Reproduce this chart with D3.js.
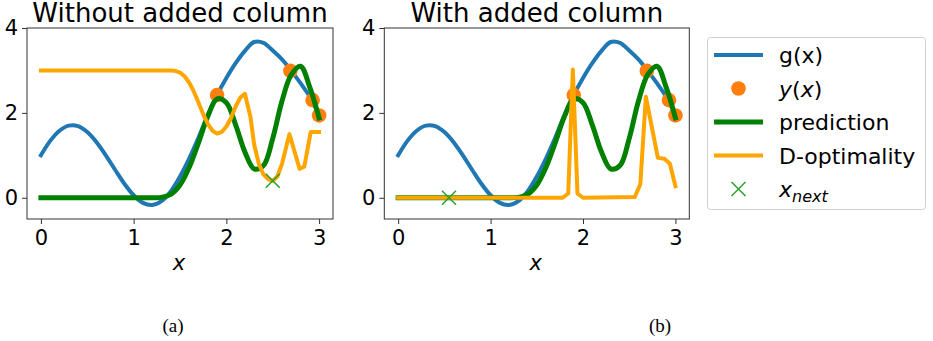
<!DOCTYPE html>
<html>
<head>
<meta charset="utf-8">
<script src="https://cdn.jsdelivr.net/npm/d3@7"></script>
<style>
  html, body { margin: 0; padding: 0; background: #fff; }
  svg { display: block; }
  text { font-family: "DejaVu Sans", sans-serif; fill: #000; }
</style>
</head>
<body>
<svg id="fig" width="933" height="341"></svg>
<script>
// ---- data ----
const panelTitles = ["Without added column", "With added column"];
const panelCaptions = ["(a)", "(b)"];
const xTicks = [0, 1, 2, 3];
const yTicks = [0, 2, 4];

// true function g(x), sampled every 0.1
const gX = [0.0, 0.1, 0.2, 0.3, 0.4, 0.5, 0.6, 0.7, 0.8, 0.9, 1.0,
            1.1, 1.2, 1.3, 1.4, 1.5, 1.6, 1.7, 1.8, 1.9, 2.0,
            2.1, 2.2, 2.3, 2.4, 2.5, 2.6, 2.7, 2.8, 2.9, 3.0];
const gY = [1.00, 1.34, 1.58, 1.70, 1.69, 1.55, 1.31, 1.00, 0.66, 0.33, 0.06,
            -0.12, -0.17, -0.08, 0.15, 0.50, 0.93, 1.42, 1.95, 2.42, 2.82,
            3.17, 3.46, 3.67, 3.65, 3.47, 3.26, 2.99, 2.70, 2.38, 1.95];

// observations y(x)
const obsX = [1.9, 2.69, 2.93, 3.0];
const obsY = [2.42, 2.99, 2.30, 1.94];

// model prediction (same grid as g)
const predLeft  = [0, 0, 0, 0, 0, 0, 0, 0, 0, 0, 0,
                   0, 0, 0.01, 0.08, 0.30, 0.72, 1.30, 1.92, 2.33, 2.24,
                   1.72, 1.08, 0.68, 0.76, 1.40, 2.28, 2.90, 3.10, 2.60, 1.88];
const predRight = [0, 0, 0, 0, 0, 0, 0, 0, 0, 0, 0,
                   0, 0, 0.01, 0.08, 0.30, 0.72, 1.30, 1.92, 2.33, 2.24,
                   1.72, 1.08, 0.68, 0.76, 1.40, 2.28, 2.90, 3.10, 2.60, 1.88];

// D-optimality criterion
const dOptLeftX = [0.0, 0.5, 1.0, 1.4, 1.45, 1.5, 1.55, 1.6, 1.65, 1.7, 1.75, 1.8, 1.85,
                   1.9, 1.95, 2.0, 2.05, 2.1, 2.15, 2.2, 2.26, 2.3, 2.35, 2.4, 2.45,
                   2.5, 2.55, 2.6, 2.68, 2.79, 2.84, 2.91, 3.0];
const dOptLeftY = [3.0, 3.0, 3.0, 3.0, 2.99, 2.95, 2.86, 2.71, 2.50, 2.24, 1.97, 1.74, 1.58,
                   1.51, 1.55, 1.68, 1.88, 2.15, 2.36, 2.45, 1.90, 1.25, 0.80, 0.55, 0.44,
                   0.40, 0.50, 0.80, 1.50, 0.68, 0.73, 1.55, 1.55];
const dOptRightX = [0.0, 1.0, 1.78, 1.84, 1.89, 1.94, 2.0, 2.56, 2.62, 2.68, 2.81, 2.88, 2.94, 3.0];
const dOptRightY = [0.0, 0.0, 0.0, 0.10, 3.02, 0.10, 0.0, 0.02, 0.32, 2.38, 0.94, 0.92, 0.80, 0.27];

// next sample location
const nextX = [2.5, 0.55];
const nextY = [0.40, 0.0];

// ---- styling ----
const C = {
  g: "#1f77b4", obs: "#ff7f0e", pred: "#008000", dopt: "#ffa500", next: "#2ca02c"
};

const svg = d3.select("#fig");

const panels = [
  { left: 27,    right: 333,   pred: predLeft,  dx: dOptLeftX,  dy: dOptLeftY,  nx: nextX[0], ny: nextY[0] },
  { left: 384.3, right: 689.3, pred: predRight, dx: dOptRightX, dy: dOptRightY, nx: nextX[1], ny: nextY[1] }
];
const plotTop = 28, plotBottom = 219;

panels.forEach((p, i) => {
  const x = d3.scaleLinear().domain([-0.15, 3.15]).range([p.left, p.right]);
  const y = d3.scaleLinear().domain([-0.5, 4.0]).range([plotBottom, plotTop]);
  const g = svg.append("g");

  const clipId = "clip" + i;
  g.append("clipPath").attr("id", clipId).append("rect")
    .attr("x", p.left).attr("y", plotTop).attr("width", p.right - p.left).attr("height", plotBottom - plotTop);
  const plot = g.append("g").attr("clip-path", `url(#${clipId})`);

  const smooth = d3.line().x(d => x(d[0])).y(d => y(d[1])).curve(d3.curveCatmullRom.alpha(0.5));
  const straight = d3.line().x(d => x(d[0])).y(d => y(d[1]));

  plot.append("path").datum(d3.zip(gX, gY)).attr("d", smooth)
    .attr("fill", "none").attr("stroke", C.g).attr("stroke-width", 4)
    .attr("stroke-linecap", "square").attr("stroke-linejoin", "round");

  plot.selectAll("circle.obs").data(d3.zip(obsX, obsY)).join("circle")
    .attr("class", "obs").attr("cx", d => x(d[0])).attr("cy", d => y(d[1]))
    .attr("r", 7.3).attr("fill", C.obs);

  plot.append("path").datum(d3.zip(gX, p.pred)).attr("d", smooth)
    .attr("fill", "none").attr("stroke", C.pred).attr("stroke-width", 5)
    .attr("stroke-linecap", "square").attr("stroke-linejoin", "round");

  plot.append("path").datum(d3.zip(p.dx, p.dy)).attr("d", straight)
    .attr("fill", "none").attr("stroke", C.dopt).attr("stroke-width", 4)
    .attr("stroke-linecap", "square").attr("stroke-linejoin", "round");

  const mx = x(p.nx), my = y(p.ny), s = 7;
  plot.append("path")
    .attr("d", `M${mx - s},${my - s}L${mx + s},${my + s}M${mx - s},${my + s}L${mx + s},${my - s}`)
    .attr("stroke", C.next).attr("stroke-width", 1.5).attr("fill", "none");

  // frame
  g.append("rect").attr("x", p.left).attr("y", plotTop)
    .attr("width", p.right - p.left).attr("height", plotBottom - plotTop)
    .attr("fill", "none").attr("stroke", "#333").attr("stroke-width", 1);

  // axes
  const ax = g.append("g").attr("transform", `translate(0,${plotBottom})`)
    .call(d3.axisBottom(x).tickValues(xTicks).tickFormat(d3.format("d")).tickSize(5).tickPadding(6));
  const ay = g.append("g").attr("transform", `translate(${p.left},0)`)
    .call(d3.axisLeft(y).tickValues(yTicks).tickFormat(d3.format("d")).tickSize(5).tickPadding(4));
  [ax, ay].forEach(a => {
    a.select(".domain").remove();
    a.selectAll(".tick line").attr("stroke", "#333");
    a.selectAll(".tick text").style("font-size", "21px").style("font-family", "DejaVu Sans").attr("fill", "#000");
  });

  // title and x label
  g.append("text").attr("x", (p.left + p.right) / 2).attr("y", 22)
    .attr("text-anchor", "middle").style("font-size", "26px").text(panelTitles[i]);
  g.append("text").attr("x", x(1.5) - 1).attr("y", 270)
    .attr("text-anchor", "middle").style("font-size", "21px").style("font-style", "italic").text("x");

  // caption
  svg.append("text").attr("x", i === 0 ? 173 : 660).attr("y", 332)
    .attr("text-anchor", "middle")
    .style("font-family", "Liberation Serif, serif").style("font-size", "19px")
    .text(panelCaptions[i]);
});

// ---- legend ----
const leg = svg.append("g");
leg.append("rect").attr("x", 707.5).attr("y", 37.5).attr("width", 218).attr("height", 172)
  .attr("rx", 3).attr("fill", "#fff").attr("fill-opacity", 0.8)
  .attr("stroke", "#d0d0d0").attr("stroke-width", 1);

const rows = [55, 88.5, 122, 155.5, 189];
const hx0 = 714, hx1 = 763, hc = (hx0 + hx1) / 2, tx = 779;

function legLine(yy, color, w) {
  leg.append("line").attr("x1", hx0).attr("x2", hx1).attr("y1", yy).attr("y2", yy)
    .attr("stroke", color).attr("stroke-width", w).attr("stroke-linecap", "butt");
}
function legText(yy) {
  return leg.append("text").attr("x", tx).attr("y", yy + 8).style("font-size", "22px");
}

legLine(rows[0], C.g, 4);
legText(rows[0]).text("g(x)");

leg.append("circle").attr("cx", hc).attr("cy", rows[1]).attr("r", 7.3).attr("fill", C.obs);
const t1 = legText(rows[1]);
t1.append("tspan").style("font-style", "italic").text("y");
t1.append("tspan").text("(");
t1.append("tspan").style("font-style", "italic").text("x");
t1.append("tspan").text(")");

legLine(rows[2], C.pred, 5);
legText(rows[2]).text("prediction");

legLine(rows[3], C.dopt, 4);
legText(rows[3]).text("D-optimality");

const s2 = 7;
leg.append("path")
  .attr("d", `M${hc - s2},${rows[4] - s2}L${hc + s2},${rows[4] + s2}M${hc - s2},${rows[4] + s2}L${hc + s2},${rows[4] - s2}`)
  .attr("stroke", C.next).attr("stroke-width", 1.5).attr("fill", "none");
const t4 = legText(rows[4]);
t4.append("tspan").style("font-style", "italic").text("x");
t4.append("tspan").style("font-style", "italic").style("font-size", "16px").attr("dy", 5).text("next");
</script>
</body>
</html>
